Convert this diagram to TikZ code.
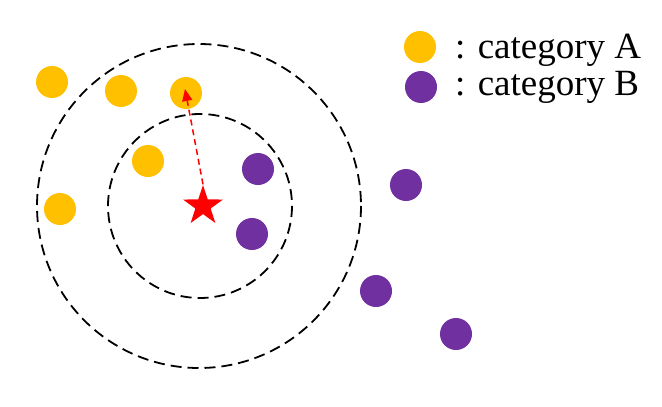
\documentclass[tikz,border=0pt]{standalone}
\usepackage{fontspec}
\setmainfont{Liberation Serif}
\usetikzlibrary{shapes.geometric}
\usetikzlibrary{arrows.meta}

\definecolor{catyellow}{HTML}{FFC000}
\definecolor{catpurple}{HTML}{7030A0}

\tikzset{
  dot/.style={circle, inner sep=0pt, minimum size=32pt},
  catA/.style={dot, fill=catyellow},
  catB/.style={dot, fill=catpurple},
  ring/.style={draw=black, line width=1.8pt, dash pattern=on 11pt off 6pt},
  legend/.style={anchor=base west, inner sep=0pt, font=\fontsize{37}{40}\selectfont}
}

\begin{document}
\begin{tikzpicture}[x=1pt, y=-1pt]
\useasboundingbox (0,0) rectangle (662,407);
\draw[ring] (199,206) circle (162);
\draw[ring] (200,206) circle (92);
\node[catA] (a1) at (52,82) {};
\node[catA] (a2) at (121,91) {};
\node[catA] (a3) at (186,93) {};
\node[catA] (a4) at (148,161) {};
\node[catA] (a5) at (60,209) {};
\node[catB] (b1) at (258,169) {};
\node[catB] (b2) at (252,234) {};
\node[catB] (b3) at (406,185) {};
\node[catB] (b4) at (376,291) {};
\node[catB] (b5) at (456,334) {};
\node[star, star points=5, star point ratio=2.6, fill=red, inner sep=0pt, minimum size=42pt] (query) at (203,206) {};
\coordinate (tip) at (185,89);
\draw[red, line width=1.5pt, dash pattern=on 6pt off 4pt, -{Triangle[width=10pt, length=12pt]}] (query.north) -- (tip);
\node[catA] (keyA) at (420,47) {};
\node[catB] (keyB) at (421,87) {};
\node[legend] (labA) at (455,58) {: category A};
\node[legend] (labB) at (455,95) {: category B};
\end{tikzpicture}
\end{document}
